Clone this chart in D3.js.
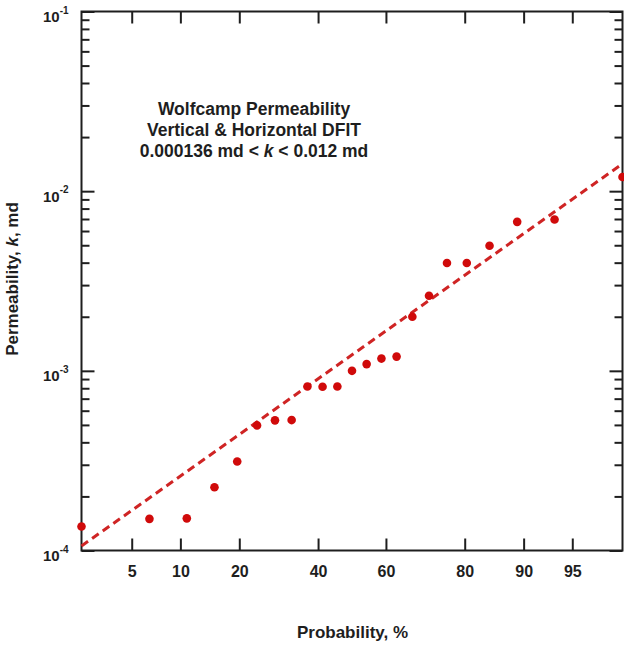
<!DOCTYPE html>
<html>
<head>
<meta charset="utf-8">
<script src="https://cdn.jsdelivr.net/npm/d3@7"></script>
<style>
  html, body { margin: 0; padding: 0; background: #fff; }
  svg { display: block; font-family: "Liberation Sans", Arial, Helvetica, sans-serif; }
</style>
</head>
<body>
<svg id="chart" width="624" height="646"></svg>
<script>
// Cumulative probability (%) of each ranked DFIT sample
const probability = [2.17, 6.52, 10.87, 15.22, 19.57, 23.91, 28.26, 32.61, 36.96, 41.30, 45.65, 50.00,
                     54.35, 58.70, 63.04, 67.39, 71.74, 76.09, 80.43, 84.78, 89.13, 93.48, 97.83];
// Measured permeability, md
const permeability = [0.000136, 0.000150, 0.000151, 0.000225, 0.000313, 0.000497, 0.000530, 0.000532,
                      0.000818, 0.000815, 0.000818, 0.00100, 0.00109, 0.00117, 0.00120, 0.00200,
                      0.00262, 0.00398, 0.00398, 0.00497, 0.00675, 0.00696, 0.0120];
// Log-normal fit line end points
const fitProbability = [2.17, 97.83];
const fitPermeability = [0.000106, 0.0142];

// Axis ticks
const probTicks = [5, 10, 20, 40, 60, 80, 90, 95];
const decadeTicks = [1e-4, 1e-3, 1e-2, 1e-1];
const decadeExponents = ["-4", "-3", "-2", "-1"];
const minorMultipliers = [2, 3, 4, 5, 6, 7, 8, 9];

const titleLines = ["Wolfcamp Permeability", "Vertical & Horizontal DFIT"];

// Inverse of the standard normal CDF (Acklam's rational approximation)
function probit(p) {
  const a = [-3.969683028665376e+01, 2.209460984245205e+02, -2.759285104469687e+02,
             1.383577518672690e+02, -3.066479806614716e+01, 2.506628277459239e+00];
  const b = [-5.447609879822406e+01, 1.615858368580409e+02, -1.556989798598866e+02,
             6.680131188771972e+01, -1.328068155288572e+01];
  const c = [-7.784894002430293e-03, -3.223964580411365e-01, -2.400758277161838e+00,
             -2.549732539343734e+00, 4.374664141464968e+00, 2.938163982698783e+00];
  const d = [7.784695709041462e-03, 3.224671290700398e-01, 2.445134137142996e+00,
             3.754408661907416e+00];
  const pl = 0.02425, ph = 1 - pl;
  let q, r;
  if (p < pl) {
    q = Math.sqrt(-2 * Math.log(p));
    return (((((c[0]*q+c[1])*q+c[2])*q+c[3])*q+c[4])*q+c[5]) / ((((d[0]*q+d[1])*q+d[2])*q+d[3])*q+1);
  }
  if (p <= ph) {
    q = p - 0.5; r = q * q;
    return (((((a[0]*r+a[1])*r+a[2])*r+a[3])*r+a[4])*r+a[5])*q / (((((b[0]*r+b[1])*r+b[2])*r+b[3])*r+b[4])*r+1);
  }
  q = Math.sqrt(-2 * Math.log(1 - p));
  return -(((((c[0]*q+c[1])*q+c[2])*q+c[3])*q+c[4])*q+c[5]) / ((((d[0]*q+d[1])*q+d[2])*q+d[3])*q+1);
}
const z = p => probit(p / 100);

const L = 81.5, R = 622.5, T = 11.5, B = 550.5;
const ink = "#1e1e1e";

const svg = d3.select("#chart");

const x = d3.scaleLinear().domain([z(2.17), z(97.83)]).range([L, R]);
const y = d3.scaleLog().domain([1e-4, 1e-1]).range([B, T]);

const minorValues = [];
decadeTicks.slice(0, 3).forEach(d => minorMultipliers.forEach(m => minorValues.push(d * m)));

function styleAxis(g) {
  g.select(".domain").remove();
  g.selectAll(".tick line").attr("stroke", ink).attr("stroke-width", 2);
  g.selectAll("text").attr("fill", ink).attr("font-weight", "bold");
}

// Bottom axis with probability labels
svg.append("g")
  .attr("transform", `translate(0,${B})`)
  .call(d3.axisBottom(x)
    .tickValues(probTicks.map(z))
    .tickFormat((d, i) => probTicks[i])
    .tickSizeInner(-12).tickSizeOuter(0).tickPadding(15))
  .call(styleAxis)
  .call(g => g.selectAll("text").attr("font-size", 16));

// Top axis (ticks only)
svg.append("g")
  .attr("transform", `translate(0,${T})`)
  .call(d3.axisTop(x).tickValues(probTicks.map(z)).tickFormat("").tickSizeInner(-12).tickSizeOuter(0))
  .call(styleAxis);

// Left and right axes: minor and major ticks
[[L, d3.axisLeft, -1], [R, d3.axisRight, 1]].forEach(([pos, axisFn]) => {
  svg.append("g")
    .attr("transform", `translate(${pos},0)`)
    .call(axisFn(y).tickValues(minorValues).tickFormat("").tickSizeInner(-8).tickSizeOuter(0))
    .call(styleAxis);
  svg.append("g")
    .attr("transform", `translate(${pos},0)`)
    .call(axisFn(y).tickValues(decadeTicks).tickFormat("").tickSizeInner(-13).tickSizeOuter(0))
    .call(styleAxis);
});

// Decade labels with superscript exponents
const yLabels = svg.append("g")
  .attr("fill", ink).attr("font-weight", "bold");
decadeTicks.forEach((d, i) => {
  const t = yLabels.append("text")
    .attr("x", 43).attr("y", y(d) + 10.5)
    .attr("font-size", 15);
  t.append("tspan").text("10");
  t.append("tspan").attr("font-size", 10).attr("dy", -8.5).text(decadeExponents[i]);
});

// Plot frame
svg.append("rect")
  .attr("x", L).attr("y", T).attr("width", R - L).attr("height", B - T)
  .attr("fill", "none").attr("stroke", ink).attr("stroke-width", 2);

// Fit line
const fitData = fitProbability.map((p, i) => [p, fitPermeability[i]]);
svg.append("path")
  .datum(fitData)
  .attr("d", d3.line().x(d => x(z(d[0]))).y(d => y(d[1])))
  .attr("fill", "none")
  .attr("stroke", "#cf2424")
  .attr("stroke-width", 3)
  .attr("stroke-dasharray", "8,5");

// Sample points
svg.append("g")
  .selectAll("circle")
  .data(probability.map((p, i) => [p, permeability[i]]))
  .join("circle")
  .attr("cx", d => x(z(d[0])))
  .attr("cy", d => y(d[1]))
  .attr("r", 4.3)
  .attr("fill", "#d00a0a");

// Title block
const title = svg.append("g")
  .attr("fill", ink).attr("font-weight", "bold").attr("font-size", 17.5)
  .attr("text-anchor", "middle");
titleLines.forEach((line, i) => {
  title.append("text").attr("x", 254).attr("y", 115 + i * 21).text(line);
});
const rangeLine = title.append("text").attr("x", 254).attr("y", 157);
rangeLine.append("tspan").text("0.000136 md < ");
rangeLine.append("tspan").attr("font-style", "italic").text("k");
rangeLine.append("tspan").text(" < 0.012 md");

// Axis titles
svg.append("text")
  .attr("x", 352.5).attr("y", 638)
  .attr("text-anchor", "middle")
  .attr("font-size", 17).attr("font-weight", "bold").attr("fill", ink)
  .text("Probability, %");

const yTitle = svg.append("text")
  .attr("transform", "translate(17.5,279) rotate(-90)")
  .attr("text-anchor", "middle")
  .attr("font-size", 17).attr("font-weight", "bold").attr("fill", ink);
yTitle.append("tspan").text("Permeability, ");
yTitle.append("tspan").attr("font-style", "italic").text("k");
yTitle.append("tspan").text(", md");
</script>
</body>
</html>
